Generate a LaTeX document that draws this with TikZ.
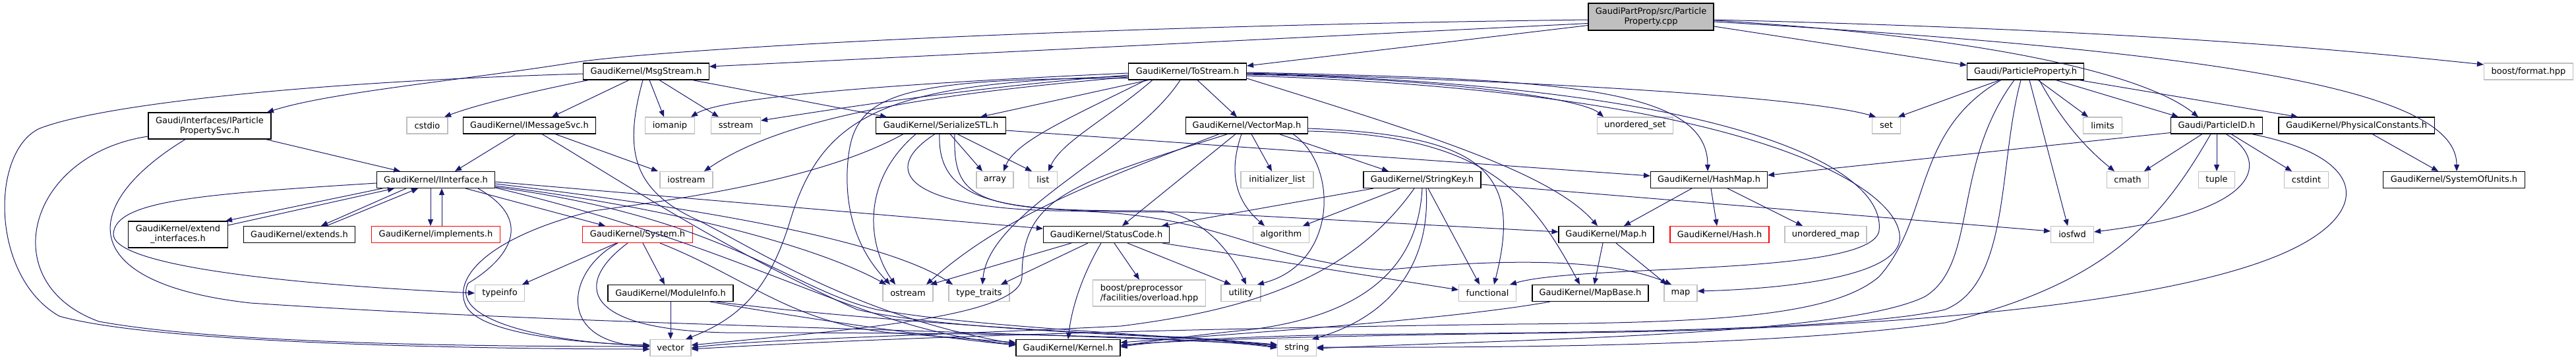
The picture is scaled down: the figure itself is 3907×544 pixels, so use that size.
\documentclass[tikz,border=0pt]{standalone}
\usepackage{fontspec}
\setmainfont{DejaVu Sans}
\usetikzlibrary{arrows.meta}
\definecolor{grayseventyfive}{RGB}{191,191,191}
\definecolor{edgeblue}{RGB}{25,25,112}
\newcommand\dxfont{\fontsize{13pt}{15pt}\selectfont}
\tikzset{
  nb/.style={draw=black, line width=1.1pt, fill=white, minimum height=25pt, inner sep=0pt, font=\dxfont, text=black},
  ng/.style={nb, draw=grayseventyfive},
  nr/.style={nb, draw=red},
  tall/.style={minimum height=40pt, align=center},
  e/.style={draw=edgeblue, line width=1pt, -{Triangle[length=10pt,width=8pt]}},
}
\begin{document}
\begin{tikzpicture}[x=1pt,y=-1pt]
\useasboundingbox (0,0) rectangle (3907,544);
% row 1
\node[nb, tall, minimum height=41pt, fill=grayseventyfive, minimum width=190pt] (root) at (2504,25.5) {GaudiPartProp/src/Particle\\Property.cpp};
% row 2
\node[nb, minimum width=191pt] (ms) at (980,108.5) {GaudiKernel/MsgStream.h};
\node[nb, minimum width=179pt] (ts) at (1801,108.5) {GaudiKernel/ToStream.h};
\node[nb, minimum width=177pt] (pp) at (3072,108.5) {Gaudi/ParticleProperty.h};
\node[ng, minimum width=135pt] (bf) at (3835,108.5) {boost/format.hpp};
% row 3
\node[nb, tall, minimum width=186pt] (ipps) at (318,191) {Gaudi/Interfaces/IParticle\\PropertySvc.h};
\node[ng, minimum width=62pt] (cstdio) at (648,190.5) {cstdio};
\node[nb, minimum width=201pt] (ims) at (803,190.5) {GaudiKernel/IMessageSvc.h};
\node[ng, minimum width=75pt] (iomanip) at (1016,190.5) {iomanip};
\node[ng, minimum width=75pt] (sstream) at (1116,190.5) {sstream};
\node[nb, minimum width=197pt] (sstl) at (1427,190.5) {GaudiKernel/SerializeSTL.h};
\node[nb, minimum width=185pt] (vmap) at (1891,190.5) {GaudiKernel/VectorMap.h};
\node[ng, minimum width=115pt] (uset) at (2480,190.5) {unordered\_set};
\node[ng, minimum width=43pt] (nset) at (2861,190.5) {set};
\node[ng, minimum width=59pt] (limits) at (3189,190.5) {limits};
\node[nb, minimum width=139pt] (pid) at (3362,190.5) {Gaudi/ParticleID.h};
\node[nb, minimum width=236pt] (pc) at (3574,190.5) {GaudiKernel/PhysicalConstants.h};
% row 4
\node[nb, minimum width=179pt] (iif) at (661,273) {GaudiKernel/IInterface.h};
\node[ng, minimum width=80pt] (iostream) at (1041,273) {iostream};
\node[ng, minimum width=56pt] (narray) at (1509,273) {array};
\node[ng, minimum width=43pt] (nlist) at (1582,273) {list};
\node[ng, minimum width=110pt] (initl) at (1937,273) {initializer\_list};
\node[nb, minimum width=178pt] (skey) at (2157,273) {GaudiKernel/StringKey.h};
\node[nb, minimum width=177pt] (hmap) at (2592,273) {GaudiKernel/HashMap.h};
\node[ng, minimum width=63pt] (cmath) at (3227,273) {cmath};
\node[ng, minimum width=55pt] (tuple) at (3362,273) {tuple};
\node[ng, minimum width=67pt] (cstdint) at (3498,273) {cstdint};
\node[nb, minimum width=215pt] (sou) at (3722,273) {GaudiKernel/SystemOfUnits.h};
% row 5
\node[nb, tall, minimum width=151pt] (extif) at (270,356) {GaudiKernel/extend\\\_interfaces.h};
\node[nb, minimum width=169pt] (extn) at (454,356) {GaudiKernel/extends.h};
\node[nr, minimum width=195pt] (impl) at (661,356) {GaudiKernel/implements.h};
\node[nr, minimum width=167pt] (sys) at (967,356) {GaudiKernel/System.h};
\node[nb, minimum width=191pt] (sc) at (1678,356) {GaudiKernel/StatusCode.h};
\node[ng, minimum width=85pt] (algo) at (1943,356) {algorithm};
\node[nb, minimum width=144pt] (gmap) at (2436,356) {GaudiKernel/Map.h};
\node[nr, minimum width=150pt] (hash) at (2608,356) {GaudiKernel/Hash.h};
\node[ng, minimum width=124pt] (umap) at (2769,356) {unordered\_map};
\node[ng, minimum width=65pt] (iosfwd) at (3143,356) {iosfwd};
% row 6
\node[ng, minimum width=75pt] (typeinfo) at (758,445) {typeinfo};
\node[nb, minimum width=190pt] (modinfo) at (1017,445) {GaudiKernel/ModuleInfo.h};
\node[ng, minimum width=76pt] (ostream) at (1377,445) {ostream};
\node[ng, minimum width=92pt] (ttraits) at (1485,445) {type\_traits};
\node[ng, minimum width=171pt, minimum height=40pt, align=left] (overload) at (1743,445) {boost/preprocessor\\/facilities/overload.hpp};
\node[ng, minimum width=60pt] (utility) at (1882,445) {utility};
\node[ng, minimum width=87pt] (func) at (2256,445) {functional};
\node[nb, minimum width=176pt] (mapbase) at (2412,445) {GaudiKernel/MapBase.h};
\node[ng, minimum width=50pt] (smap) at (2549,445) {map};
% row 7
\node[ng, minimum width=62pt] (vec) at (1017,528) {vector};
\node[nb, minimum width=158pt] (kernel) at (1620,528) {GaudiKernel/Kernel.h};
\node[ng, minimum width=59pt] (str) at (1967,528) {string};

% ---- edges: root
\draw[e] ([yshift=-4.5pt]root.west) .. controls (1600,40) and (1000,75) .. (870,95) .. controls (700,122) and (500,140) .. ([xshift=87pt]ipps.north);
\draw[e] ([yshift=-10pt]root.west) -- ([yshift=7.5pt]ms.east);
\draw[e] ([yshift=-13pt]root.west) -- ([yshift=8.5pt]ts.east);
\draw[e] ([yshift=-14.5pt]root.east) -- ([yshift=9.5pt]pp.west);
\draw[e] ([yshift=-4.5pt]root.east) .. controls (3200,45) and (3500,70) .. ([yshift=10.5pt]bf.west);
\draw[e] ([yshift=-7.5pt]root.east) .. controls (3400,80) and (3726,140) .. ([xshift=4pt]sou.north);
\draw[e] ([yshift=-5.5pt]root.east) .. controls (3000,55) and (3250,110) .. ([xshift=-28pt]pid.north);
% ipps
\draw[e] ([xshift=85pt]ipps.south) -- ([xshift=-54pt]iif.north);
\draw[e] ([yshift=-16pt]ipps.west) .. controls (40,235) and (-10,430) .. (150,488) .. controls (350,525) and (800,526) .. ([yshift=2pt]vec.west);
\draw[e] ([xshift=-37pt]ipps.south) .. controls (120,310) and (110,430) .. (380,460) .. controls (900,495) and (1500,500) .. ([yshift=4pt]str.west);
% ms
\draw[e] ([yshift=-3.5pt]ms.west) .. controls (450,125) and (150,160) .. (60,195) .. controls (-15,230) and (-15,420) .. (90,480) .. controls (250,525) and (800,530) .. ([yshift=-2pt]vec.west);
\draw[e] ([xshift=-87pt]ms.south) .. controls (800,140) and (720,160) .. ([xshift=26pt]cstdio.north);
\draw[e] ([xshift=-26pt]ms.south) -- ([xshift=34pt]ims.north);
\draw[e] ([xshift=5pt]ms.south) -- ([xshift=-9pt]iomanip.north);
\draw[e] ([xshift=20pt]ms.south) -- ([xshift=-26pt]sstream.north);
\draw[e] ([xshift=70pt]ms.south) -- ([xshift=-82pt]sstl.north);
\draw[e] ([xshift=-5pt]ms.south) .. controls (945,230) and (960,290) .. (1060,335) .. controls (1150,380) and (1300,480) .. ([yshift=6pt]kernel.west);
% ims
\draw[e] ([xshift=-21pt]ims.south) -- ([xshift=29pt]iif.north);
\draw[e] ([xshift=39pt]ims.south) -- ([xshift=-43pt]iostream.north);
\draw[e] ([xshift=19pt]ims.south) .. controls (950,280) and (1100,380) .. (1300,470) .. controls (1450,505) and (1800,508) .. ([yshift=3pt]str.west);
% sstl
\draw[e] ([xshift=14pt]sstl.south) -- ([xshift=-19pt]narray.north);
\draw[e] ([xshift=25pt]sstl.south) -- ([xshift=-17pt]nlist.north);
\draw[e] ([yshift=-7.5pt]sstl.east) -- ([yshift=6pt]hmap.west);
\draw[e] ([xshift=-38pt]sstl.south) .. controls (1300,280) and (1320,380) .. ([xshift=-19pt]ostream.north);
\draw[e] ([xshift=-57pt]sstl.south) .. controls (1250,270) and (1050,300) .. (900,320) .. controls (740,360) and (690,420) .. (705,460) .. controls (720,510) and (900,522) .. ([yshift=4pt]vec.west);
\draw[e] ([xshift=-2pt]sstl.south) .. controls (1420,320) and (1550,320) .. (1760,320) .. controls (1830,330) and (1870,390) .. ([xshift=8pt]utility.north);
\draw[e] ([xshift=-9pt]sstl.south) .. controls (1330,260) and (1380,315) .. (1600,320) .. controls (1850,320) and (1900,395) .. (2100,410) .. controls (2300,390) and (2450,395) .. ([xshift=-14pt]smap.north);
\draw[e] ([xshift=21pt]sstl.south) .. controls (1445,310) and (1480,322) .. (1800,322) -- ([yshift=4pt]gmap.west);
% ts
\draw[e] ([xshift=-59pt]ts.south) -- ([xshift=60pt]sstl.north);
\draw[e] ([xshift=-63pt]ts.south) .. controls (1620,180) and (1540,215) .. ([xshift=13pt]narray.north);
\draw[e] ([xshift=-53pt]ts.south) .. controls (1680,180) and (1610,215) .. ([xshift=8pt]nlist.north);
\draw[e] ([xshift=15pt]ts.south) -- ([xshift=-15pt]vmap.north);
\draw[e] ([yshift=-2.5pt]ts.west) .. controls (1400,125) and (1100,145) .. ([xshift=32pt]iomanip.north);
\draw[e] ([yshift=-5.5pt]ts.west) .. controls (1500,130) and (1300,160) .. ([yshift=7.5pt]sstream.east);
\draw[e] ([yshift=-8.5pt]ts.west) .. controls (1450,140) and (1200,170) .. ([xshift=27pt]iostream.north);
\draw[e] ([yshift=-10.5pt]ts.west) .. controls (1330,118) and (1290,150) .. (1285,260) .. controls (1282,350) and (1320,400) .. ([xshift=-27pt]ostream.north);
\draw[e] ([yshift=-7.5pt]ts.west) .. controls (1350,125) and (1250,170) .. (1200,330) .. controls (1170,430) and (1130,480) .. ([xshift=23pt]vec.north);
\draw[e] ([xshift=-11pt]ts.south) .. controls (1720,230) and (1500,320) .. ([xshift=5pt]ttraits.north);
\draw[e] ([yshift=-1.5pt]ts.east) .. controls (2350,120) and (2590,130) .. ([xshift=-2pt]hmap.north);
\draw[e] ([yshift=-10.5pt]ts.east) .. controls (2150,200) and (2350,260) .. ([xshift=-13pt]gmap.north);
\draw[e] ([yshift=-4.5pt]ts.east) .. controls (2200,120) and (2400,150) .. ([xshift=-48pt]uset.north);
\draw[e] ([yshift=-2.5pt]ts.east) .. controls (2400,125) and (2750,150) .. ([xshift=-16pt]nset.north);
\draw[e] ([yshift=-3.5pt]ts.east) .. controls (2650,130) and (2860,260) .. (2850,350) .. controls (2840,420) and (2400,400) .. ([xshift=34pt]func.north);
\draw[e] ([yshift=-6.5pt]ts.east) .. controls (2700,140) and (2900,300) .. (2880,370) .. controls (2860,430) and (2650,440) .. ([yshift=3pt]smap.east);
% vmap
\draw[e] ([xshift=7pt]vmap.south) -- ([xshift=-8pt]initl.north);
\draw[e] ([xshift=-8pt]vmap.south) .. controls (1860,270) and (1880,310) .. ([xshift=-25pt]algo.north);
\draw[e] ([xshift=-17pt]vmap.south) -- ([xshift=24pt]sc.north);
\draw[e] ([xshift=49pt]vmap.south) -- ([xshift=-51pt]skey.north);
\draw[e] ([xshift=-42pt]vmap.south) .. controls (1650,280) and (1520,330) .. ([xshift=28pt]ostream.north);
\draw[e] ([xshift=-29pt]vmap.south) .. controls (1620,280) and (1550,300) .. (1550,420) .. controls (1550,480) and (1300,500) .. ([yshift=4pt]vec.east);
\draw[e] ([xshift=70pt]vmap.south) .. controls (2030,250) and (2030,400) .. ([xshift=25pt]utility.north);
\draw[e] ([yshift=-4.5pt]vmap.east) .. controls (2250,205) and (2310,260) .. ([xshift=10pt]func.north);
\draw[e] ([yshift=-8.5pt]vmap.east) .. controls (2250,205) and (2320,290) .. ([xshift=-16pt]mapbase.north);
% skey
\draw[e] ([xshift=-74pt]skey.south) -- ([xshift=84pt]sc.north);
\draw[e] ([xshift=-34pt]skey.south) -- ([xshift=33pt]algo.north);
\draw[e] ([xshift=9pt]skey.south) -- ([xshift=-12pt]func.north);
\draw[e] ([yshift=-7pt]skey.east) -- ([yshift=5pt]iosfwd.west);
\draw[e] ([xshift=6pt]skey.south) .. controls (2170,400) and (2110,480) .. ([xshift=23pt]str.north);
\draw[e] ([xshift=-12pt]skey.south) .. controls (2050,420) and (1900,470) .. (1700,495) .. controls (1400,510) and (1150,515) .. (vec.east);
\draw[e] (skey.south) .. controls (2150,420) and (2050,480) .. (1900,500) .. controls (1800,510) and (1750,518) .. ([yshift=3pt]kernel.east);
% hmap, map, mapbase
\draw[e] ([xshift=-26pt]hmap.south) -- ([xshift=27pt]gmap.north);
\draw[e] ([xshift=3pt]hmap.south) -- ([xshift=-4pt]hash.north);
\draw[e] ([xshift=28pt]hmap.south) -- ([xshift=-35pt]umap.north);
\draw[e] ([xshift=-5pt]gmap.south) -- ([xshift=6pt]mapbase.north);
\draw[e] ([xshift=15pt]gmap.south) -- ([xshift=-21pt]smap.north);
\draw[e] ([xshift=-61pt]mapbase.south) .. controls (2200,485) and (1900,505) .. ([yshift=8pt]kernel.east);
% sc
\draw[e] ([xshift=-53pt]sc.south) -- ([xshift=34pt]ostream.north);
\draw[e] ([xshift=-28pt]sc.south) -- ([xshift=33pt]ttraits.north);
\draw[e] ([xshift=-8pt]sc.south) .. controls (1640,420) and (1625,470) .. (kernel.north);
\draw[e] ([xshift=12pt]sc.south) -- ([xshift=-15pt]overload.north);
\draw[e] ([xshift=32pt]sc.south) -- ([xshift=-15pt]utility.north);
\draw[e] ([xshift=85pt]sc.south) -- ([yshift=5pt]func.west);
% sys, modinfo
\draw[e] ([xshift=-32pt]sys.south) -- ([xshift=34pt]typeinfo.north);
\draw[e] ([xshift=8pt]sys.south) -- ([xshift=-9pt]modinfo.north);
\draw[e] ([xshift=-30pt]sys.south) .. controls (860,410) and (840,520) .. ([yshift=2pt]vec.west);
\draw[e] ([xshift=-15pt]sys.south) .. controls (870,430) and (880,500) .. (1100,505) .. controls (1500,505) and (1800,510) .. (str.west);
\draw[e] ([xshift=34pt]sys.south) .. controls (1130,420) and (1200,490) .. (1350,505) -- ([yshift=8pt]kernel.west);
\draw[e] (modinfo.south) -- (vec.north);
\draw[e] ([xshift=60pt]modinfo.south) .. controls (1200,480) and (1400,510) .. ([yshift=4pt]kernel.west);
\draw[e] ([xshift=70pt]modinfo.south) .. controls (1250,480) and (1600,505) .. (1800,512) -- ([yshift=5pt]str.west);
% iif and friends
\draw[e] ([xshift=-81pt]iif.south) -- ([xshift=72pt]extif.north);
\draw[e] ([yshift=14pt]extif.east) -- ([xshift=-63pt]iif.south);
\draw[e] ([xshift=-45pt]iif.south) -- ([xshift=33pt]extn.north);
\draw[e] ([xshift=41pt]extn.north) -- ([xshift=-27pt]iif.south);
\draw[e] ([xshift=-8pt]iif.south) -- ([xshift=-8pt]impl.north);
\draw[e] ([xshift=9pt]impl.north) -- ([xshift=9pt]iif.south);
\draw[e] ([xshift=45pt]iif.south) -- ([xshift=-49pt]sys.north);
\draw[e] ([yshift=-5pt]iif.west) .. controls (300,295) and (175,305) .. (172,355) .. controls (170,400) and (400,430) .. (typeinfo.west);
\draw[e] ([xshift=64pt]iif.south) .. controls (820,340) and (760,400) .. (710,430) .. controls (680,490) and (850,522) .. ([yshift=4pt]vec.west);
\draw[e] ([yshift=-3pt]iif.east) -- ([yshift=9pt]sc.west);
\draw[e] ([yshift=-6pt]iif.east) .. controls (1100,320) and (1350,370) .. ([xshift=-40pt]ttraits.north);
\draw[e] ([yshift=-9pt]iif.east) .. controls (1050,320) and (1250,380) .. ([xshift=-33pt]ostream.north);
\draw[e] ([yshift=-11pt]iif.east) .. controls (1100,330) and (1200,440) .. (1330,470) .. controls (1500,500) and (1800,508) .. ([yshift=1pt]str.west);
\draw[e] ([yshift=-12pt]iif.east) .. controls (1150,380) and (1300,500) .. ([yshift=5pt]kernel.west);
% pp
\draw[e] ([xshift=-39pt]pp.south) -- ([xshift=18pt]nset.north);
\draw[e] ([xshift=19pt]pp.south) -- ([xshift=-22pt]limits.north);
\draw[e] ([xshift=21pt]pp.south) .. controls (3130,190) and (3170,230) .. ([xshift=-20pt]cmath.north);
\draw[e] ([xshift=6pt]pp.south) -- ([xshift=-7pt]iosfwd.north);
\draw[e] ([xshift=46pt]pp.south) -- ([xshift=-58pt]pid.north);
\draw[e] ([xshift=81pt]pp.south) -- ([xshift=-89pt]pc.north);
\draw[e] ([xshift=-37pt]pp.south) .. controls (2900,200) and (2930,330) .. (2850,420) .. controls (2780,480) and (2600,490) .. (2300,492) .. controls (1700,500) and (1300,515) .. ([yshift=-2pt]vec.east);
\draw[e] ([xshift=-17pt]pp.south) .. controls (2960,250) and (3000,400) .. (2920,450) .. controls (2800,510) and (2300,515) .. ([yshift=-1pt]str.east);
\draw[e] ([xshift=-7pt]pp.south) .. controls (3030,250) and (3050,430) .. (2950,470) .. controls (2800,505) and (2300,505) .. (2050,508) .. controls (1900,510) and (1750,518) .. ([yshift=1pt]kernel.east);
% pid
\draw[e] ([yshift=-11pt]pid.west) -- ([yshift=7pt]hmap.east);
\draw[e] ([xshift=-22pt]pid.south) -- ([xshift=25pt]cmath.north);
\draw[e] (pid.south) -- (tuple.north);
\draw[e] ([xshift=22pt]pid.south) -- ([xshift=-22pt]cstdint.north);
\draw[e] ([xshift=14pt]pid.south) .. controls (3440,240) and (3440,320) .. ([yshift=4pt]iosfwd.east);
\draw[e] ([xshift=-9pt]pid.south) .. controls (3280,330) and (3200,430) .. (2950,490) .. controls (2700,525) and (2300,528) .. ([yshift=1pt]str.east);
\draw[e] ([xshift=53pt]pid.south) .. controls (3600,240) and (3600,330) .. (3450,390) .. controls (3250,470) and (2800,500) .. (2400,505) .. controls (2100,508) and (1800,515) .. ([yshift=4pt]kernel.east);
% pc
\draw[e] ([xshift=24pt]pc.south) -- ([xshift=-24pt]sou.north);
\end{tikzpicture}
\end{document}
